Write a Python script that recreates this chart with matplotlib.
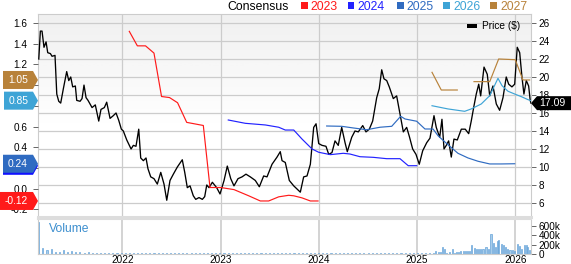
import numpy as np
import matplotlib.pyplot as plt
from matplotlib.patches import Polygon, Rectangle

plt.rcParams['font.family'] = ['Liberation Sans', 'DejaVu Sans']

# price ($), x in decimal years
price_t = [2021.150, 2021.166, 2021.183, 2021.203, 2021.224, 2021.241, 2021.268, 2021.285, 2021.315, 2021.333,
           2021.353, 2021.373, 2021.400, 2021.434, 2021.455, 2021.475, 2021.495, 2021.522, 2021.536, 2021.570,
           2021.590, 2021.610, 2021.631, 2021.651, 2021.692, 2021.725, 2021.760, 2021.783, 2021.817, 2021.841,
           2021.875, 2021.908, 2021.936, 2021.963, 2021.990, 2022.010, 2022.045, 2022.089, 2022.112, 2022.139,
           2022.167, 2022.187, 2022.214, 2022.241, 2022.261, 2022.289, 2022.322, 2022.356, 2022.391, 2022.424,
           2022.452, 2022.485, 2022.519, 2022.560, 2022.610, 2022.635, 2022.661, 2022.689, 2022.722, 2022.747,
           2022.780, 2022.814, 2022.838, 2022.859, 2022.882, 2022.916, 2022.960, 2022.994, 2023.035, 2023.068,
           2023.103, 2023.136, 2023.177, 2023.218, 2023.258, 2023.302, 2023.353, 2023.394, 2023.438, 2023.472,
           2023.523, 2023.574, 2023.607, 2023.625, 2023.658, 2023.699, 2023.744, 2023.811, 2023.845, 2023.879,
           2023.913, 2023.947, 2023.971, 2023.998, 2024.032, 2024.072, 2024.100, 2024.133, 2024.164, 2024.197,
           2024.232, 2024.266, 2024.289, 2024.334, 2024.367, 2024.401, 2024.446, 2024.479, 2024.513, 2024.547,
           2024.588, 2024.614, 2024.639, 2024.662, 2024.690, 2024.716, 2024.757, 2024.791, 2024.825, 2024.859,
           2024.893, 2024.920, 2024.954, 2024.988, 2025.021, 2025.056, 2025.097, 2025.130, 2025.171, 2025.194,
           2025.229, 2025.252, 2025.273, 2025.296, 2025.320, 2025.347, 2025.374, 2025.408, 2025.449, 2025.489,
           2025.524, 2025.550, 2025.578, 2025.601, 2025.626, 2025.646, 2025.680, 2025.713, 2025.738, 2025.771,
           2025.805, 2025.839, 2025.873, 2025.906, 2025.931, 2025.964, 2025.992, 2026.018, 2026.043, 2026.066,
           2026.086, 2026.110, 2026.134, 2026.150, 2026.158]
price_v = [22.0, 25.1, 25.1, 23.3, 23.9, 22.7, 22.6, 22.3, 22.4, 18.1,
           17.3, 17.1, 18.7, 20.6, 19.6, 20.0, 18.9, 19.0, 17.4, 17.3,
           17.6, 19.1, 17.7, 17.4, 16.6, 16.9, 15.1, 16.4, 16.6, 17.2,
           15.4, 15.7, 16.0, 15.2, 14.2, 14.0, 13.0, 12.0, 12.4, 12.3,
           14.2, 11.0, 10.7, 11.0, 9.8, 8.9, 8.7, 8.1, 9.4, 8.1,
           6.3, 8.5, 9.2, 10.0, 10.8, 9.4, 7.7, 7.9, 6.8, 6.4,
           6.6, 6.4, 6.7, 8.0, 7.7, 8.3, 7.7, 7.0, 8.5, 10.1,
           8.7, 7.9, 8.7, 8.9, 9.2, 8.9, 8.5, 7.8, 9.0, 8.9,
           10.3, 11.1, 11.7, 10.7, 10.5, 8.5, 7.9, 7.2, 8.9, 9.0,
           10.3, 14.4, 14.8, 12.6, 12.4, 12.3, 11.4, 11.6, 12.9, 12.4,
           14.4, 12.7, 11.7, 13.3, 14.0, 13.9, 14.6, 13.9, 14.2, 15.1,
           17.7, 18.7, 20.8, 19.8, 19.6, 18.9, 17.6, 17.9, 15.9, 13.9,
           14.4, 13.4, 12.0, 11.4, 10.3, 11.8, 12.7, 13.2, 15.7, 14.4,
           13.3, 15.3, 12.0, 12.4, 12.9, 11.1, 13.1, 13.0, 14.2, 14.2,
           13.7, 15.1, 16.8, 18.1, 19.2, 17.9, 21.1, 20.3, 17.9, 19.0,
           17.0, 16.3, 17.7, 20.0, 19.2, 18.9, 19.2, 23.3, 22.7, 20.0,
           18.1, 19.6, 19.0, 17.4, 17.09]

# consensus EPS estimates per fiscal year
eps23_t = [2022.071, 2022.153, 2022.236, 2022.322, 2022.399, 2022.480, 2022.562, 2022.655, 2022.824, 2022.892,
           2023.001, 2023.136, 2023.286, 2023.404, 2023.489, 2023.591, 2023.693, 2023.744, 2023.828, 2023.913,
           2023.991]
eps23_v = [1.52, 1.38, 1.38, 1.31, 0.89, 0.88, 0.83, 0.64, 0.61, 0.01,
           0.01, -0.01, -0.07, -0.12, -0.12, -0.08, -0.065, -0.07, -0.09, -0.12,
           -0.12]

eps24_t = [2023.078, 2023.251, 2023.455, 2023.591, 2023.658, 2023.744, 2023.828, 2023.930, 2023.998, 2024.116,
           2024.248, 2024.316, 2024.418, 2024.553, 2024.690, 2024.825, 2024.909, 2024.995]
eps24_v = [0.663, 0.631, 0.615, 0.593, 0.566, 0.566, 0.479, 0.383, 0.351, 0.328,
           0.341, 0.334, 0.308, 0.302, 0.289, 0.289, 0.221, 0.221]

eps25_t = [2024.079, 2024.232, 2024.350, 2024.486, 2024.622, 2024.741, 2024.832, 2024.876, 2024.995, 2025.079,
           2025.161, 2025.212, 2025.313, 2025.415, 2025.517, 2025.619, 2025.738, 2025.856, 2025.992]
eps25_v = [0.605, 0.602, 0.586, 0.569, 0.593, 0.602, 0.699, 0.673, 0.651, 0.576,
           0.576, 0.511, 0.424, 0.341, 0.296, 0.264, 0.238, 0.238, 0.24]

eps26_t = [2025.151, 2025.313, 2025.483, 2025.550, 2025.652, 2025.738, 2025.822, 2025.863, 2025.924, 2026.008,
           2026.059, 2026.127, 2026.158]
eps26_v = [0.801, 0.770, 0.747, 0.770, 0.818, 0.898, 1.066, 0.995, 0.941, 0.908,
           0.889, 0.860, 0.85]

eps27_t = [2025.151, 2025.245, 2025.408, 2025.493, 2025.578, 2025.738, 2025.829, 2025.998, 2026.076, 2026.144]
eps27_v = [1.124, 0.953, 0.953, np.nan, 1.034, 1.034, 1.253, 1.246, 1.05, 1.05]

# volume (thousands): semi-monthly until early 2025, weekly after
vol_early_k = [680, 130, 85, 100, 45, 35, 90, 40, 70, 45, 35, 30, 35, 25, 30, 20, 25, 20, 30, 20,
               20, 25, 20, 30, 25, 30, 20, 25, 20, 18, 20, 15, 18, 15, 20, 15, 18, 15, 15, 20, 15, 15, 15, 18,
               15, 20, 15, 15, 18, 15, 15, 25, 15, 15, 15, 12, 15, 15, 12, 15, 12, 15, 12, 12, 15, 12, 12, 15,
               22, 12, 15, 15, 12, 15, 12, 15, 12, 15, 12, 12, 15, 12, 12, 15, 12, 15, 12, 15, 15, 12, 25, 12,
               15, 12, 15, 20, 25]
vol_late_t = [2025.191, 2025.213, 2025.234, 2025.255, 2025.276, 2025.300, 2025.327, 2025.361, 2025.380, 2025.402,
              2025.425, 2025.445, 2025.468, 2025.490, 2025.510, 2025.535, 2025.557, 2025.581, 2025.600, 2025.625,
              2025.648, 2025.670, 2025.700, 2025.727, 2025.751, 2025.774, 2025.795, 2025.815, 2025.832, 2025.856,
              2025.876, 2025.896, 2025.921, 2025.944, 2025.967, 2025.988, 2026.018, 2026.039, 2026.063, 2026.089,
              2026.110, 2026.127, 2026.147]
vol_late_k = [70, 40, 50, 155, 100, 30, 50, 100, 30, 50,
              40, 55, 55, 55, 70, 70, 190, 125, 100, 100,
              100, 100, 140, 110, 424, 225, 155, 270, 300, 210,
              185, 155, 110, 85, 85, 55, 210, 170, 110, 185,
              185, 140, 85]

years = [2022, 2023, 2024, 2025, 2026]
eps_ticks = [-0.2, 0.0, 0.2, 0.4, 0.6, 0.8, 1.0, 1.2, 1.4, 1.6]
series = [('2023', '#ff1a1a', eps23_t, eps23_v),
          ('2024', '#2222ff', eps24_t, eps24_v),
          ('2025', '#2f6bc1', eps25_t, eps25_v),
          ('2026', '#3ea4d6', eps26_t, eps26_v),
          ('2027', '#b8823a', eps27_t, eps27_v)]

W, H = 571, 264
fig = plt.figure(figsize=(W / 100, H / 100), dpi=100)
rect = [38 / W, 1 - 217 / H, (531 - 38) / W, (217 - 14) / H]
axp = fig.add_axes(rect)                 # price, right axis, grid
axe = fig.add_axes(rect, sharex=axp)     # eps, left axis
axe.patch.set_visible(False)
axv = fig.add_axes([38 / W, 1 - 254 / H, (531 - 38) / W, (254 - 219) / H], sharex=axp)

x0, x1 = 2021.142, 2026.158

# grey fade at the top of the price panel
grad = np.linspace(0, 1, 200)
grad = np.clip(1 - grad / 0.55, 0, 1)[:, None]
axp.imshow(grad, extent=[0, 1, 0, 1], transform=axp.transAxes, aspect='auto',
           cmap='Greys', vmin=0, vmax=8, zorder=0, origin='upper')

axp.plot(price_t, price_v, color='black', lw=0.95, zorder=3)
axp.set_ylim(4.44, 27)
axp.set_xlim(x0, x1)
axp.yaxis.tick_right()
axp.set_yticks(range(6, 27, 2))
axp.grid(True, color='#cccccc', lw=0.9)
axp.set_axisbelow(True)
axp.set_xticks(years)
axp.tick_params(axis='x', length=0, labelbottom=False)
axp.tick_params(axis='y', labelsize=7.2, length=3.5, width=0.7, color='#666666', pad=2)
for s in axp.spines.values():
    s.set_color('#cccccc')
axp.spines['bottom'].set_color('#dddddd')
axp.spines['bottom'].set_linewidth(2.2)

for name, col, t, v in series:
    axe.plot(t, v, color=col, lw=0.85)
axe.set_ylim(-0.275, 1.688)
axe.set_yticks(eps_ticks)
# labels at 0.2, 0.8 and 1.0 sit under the estimate flags
axe.set_yticklabels(['' if v in (0.2, 0.8, 1.0) else f'{v:.1f}' for v in eps_ticks])
axe.tick_params(axis='y', labelsize=7.2, length=3.5, width=0.7, color='#666666', pad=4)
axe.tick_params(axis='x', length=0, labelbottom=False)
for s in axe.spines.values():
    s.set_visible(False)

# volume panel
vol_early_t = np.linspace(2021.15, 2025.17, len(vol_early_k))
vt = np.concatenate([vol_early_t, vol_late_t])
vk = np.concatenate([vol_early_k, vol_late_k]) * 1000
axv.bar(vt, vk, width=0.011, color='#a8cdea', edgecolor='#5a9cd6', linewidth=0.45, zorder=2)
axv.set_ylim(0, 741000)
axv.set_xlim(x0, x1)
axv.yaxis.tick_right()
axv.set_yticks([0, 200000, 400000, 600000])
axv.set_yticklabels(['0', '200k', '400k', '600k'])
axv.set_xticks(years)
axv.set_xticklabels([str(y) for y in years])
axv.grid(True, axis='x', color='#cccccc', lw=1.2, zorder=0)
axv.set_axisbelow(True)
axv.tick_params(axis='x', length=0, labelsize=7.2, pad=1)
axv.tick_params(axis='y', labelsize=7.2, length=3.5, width=0.7, color='#666666', pad=2)
for s in axv.spines.values():
    s.set_color('#cccccc')
axv.spines['top'].set_color('#dddddd')
axv.spines['top'].set_linewidth(1.5)
axv.text(0.022, 0.72, 'Volume', transform=axv.transAxes, fontsize=8.7, color='#3d8fcf', va='center')

# left flags with the latest estimate of each year
fig.canvas.draw()


def flag_left(val, col, xs, label=True):
    yd = axe.transData.transform((x0, val))[1]
    pts = [(xs, yd - 9), (33, yd - 9), (38, yd), (33, yd + 9), (xs, yd + 9)]
    fig.add_artist(Polygon(pts, closed=True, transform=None, facecolor=col, edgecolor='none', zorder=10))
    if label:
        fig.text((xs + 33) / 2 / W, yd / H, f'{val:.2f}', color='white', fontsize=7.4,
                 ha='center', va='center', zorder=11)


flag_left(1.05, '#b8823a', 3)
flag_left(0.85, '#3ea4d6', 4)
flag_left(0.22, '#1010ff', 3, label=False)
flag_left(0.24, '#2f6bc1', 3)
flag_left(-0.12, '#ff1a1a', 0)

# right flag with last price
yd = axp.transData.transform((x1, price_v[-1]))[1]
pts = [(531, yd), (537, yd - 7), (571, yd - 7), (571, yd + 7), (537, yd + 7)]
fig.add_artist(Polygon(pts, closed=True, transform=None, facecolor='black', edgecolor='none', zorder=10))
fig.text(552 / W, yd / H, f'{price_v[-1]:.2f}', color='white', fontsize=7.6, ha='center', va='center', zorder=11)

# price legend inside the plot
fig.add_artist(Rectangle((467 / W, 1 - 27.5 / H), 10 / W, 4 / H, transform=fig.transFigure,
                         facecolor='black', edgecolor='none', zorder=10))
fig.text(482 / W, 1 - 26 / H, 'Price ($)', fontsize=7.3, va='center', ha='left', zorder=11)

# consensus legend on top
fig.text(227 / W, 1 - 9.5 / H, 'Consensus', fontsize=8.8, va='baseline', ha='left')
sq_x = [300.7, 347.7, 396.7, 443.3, 490]
for (name, col, t, v), sx in zip(series, sq_x):
    fig.add_artist(Rectangle((sx / W, 1 - 9 / H), 6.8 / W, 7.3 / H, transform=fig.transFigure,
                             facecolor=col, edgecolor='none'))
    fig.text((sx + 10) / W, 1 - 9.5 / H, name, fontsize=8.8, color=col, va='baseline', ha='left')

fig.savefig('out.png', dpi=100)
